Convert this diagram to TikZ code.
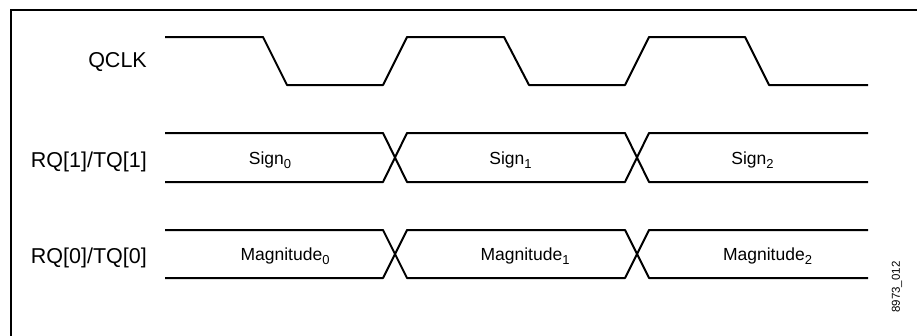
\documentclass[tikz,border=0pt]{standalone}
\usepackage{fontspec}
\setmainfont{Liberation Sans}
\newcommand{\subidx}[1]{\raisebox{-4pt}{\fontsize{13}{13}\selectfont #1}}
\begin{document}
\begin{tikzpicture}[x=1pt,y=-1pt,
  wave/.style={line width=2pt,line join=round,line cap=butt},
  frameline/.style={line width=2.6pt},
  siglabel/.style={anchor=base east,inner sep=0pt,font=\fontsize{21.5}{24}\selectfont},
  celllabel/.style={anchor=base,inner sep=0pt,font=\fontsize{17.5}{20}\selectfont},
  tag/.style={rotate=90,inner sep=0pt,font=\fontsize{11.5}{14}\selectfont}]
\useasboundingbox (0,0) rectangle (917,335);
% frame (top and left edges)
\draw[frameline] (11,336) -- (11,10) -- (918,10);
% labels
\node[siglabel] (lclk) at (147,67) {QCLK};
\node[siglabel] (lrq1) at (147,167) {RQ[1]/TQ[1]};
\node[siglabel] (lrq0) at (147,263) {RQ[0]/TQ[0]};
% QCLK waveform
\draw[wave] (165,37) -- (263,37) -- (287,85) -- (383,85) -- (407,37) -- (504,37) -- (529,85)
  -- (625,85) -- (649,37) -- (745,37) -- (769,85) -- (868,85);
% RQ[1]/TQ[1] bus
\draw[wave] (165,133) -- (383,133) -- (407,182) -- (625,182) -- (649,133) -- (868,133);
\draw[wave] (165,182) -- (383,182) -- (407,133) -- (625,133) -- (649,182) -- (868,182);
% RQ[0]/TQ[0] bus
\draw[wave] (165,230) -- (383,230) -- (407,278) -- (625,278) -- (649,230) -- (868,230);
\draw[wave] (165,278) -- (383,278) -- (407,230) -- (625,230) -- (649,278) -- (868,278);
% cell labels
\node[celllabel] (s0) at (270,164.5) {Sign\subidx{0}};
\node[celllabel] (s1) at (510.5,164.5) {Sign\subidx{1}};
\node[celllabel] (s2) at (752.5,164.5) {Sign\subidx{2}};
\node[celllabel] (m0) at (285,260.5) {Magnitude\subidx{0}};
\node[celllabel] (m1) at (525,260.5) {Magnitude\subidx{1}};
\node[celllabel] (m2) at (767.5,260.5) {Magnitude\subidx{2}};
% figure tag
\node[tag] (fig) at (897,287) {8973\_012};
\end{tikzpicture}
\end{document}
